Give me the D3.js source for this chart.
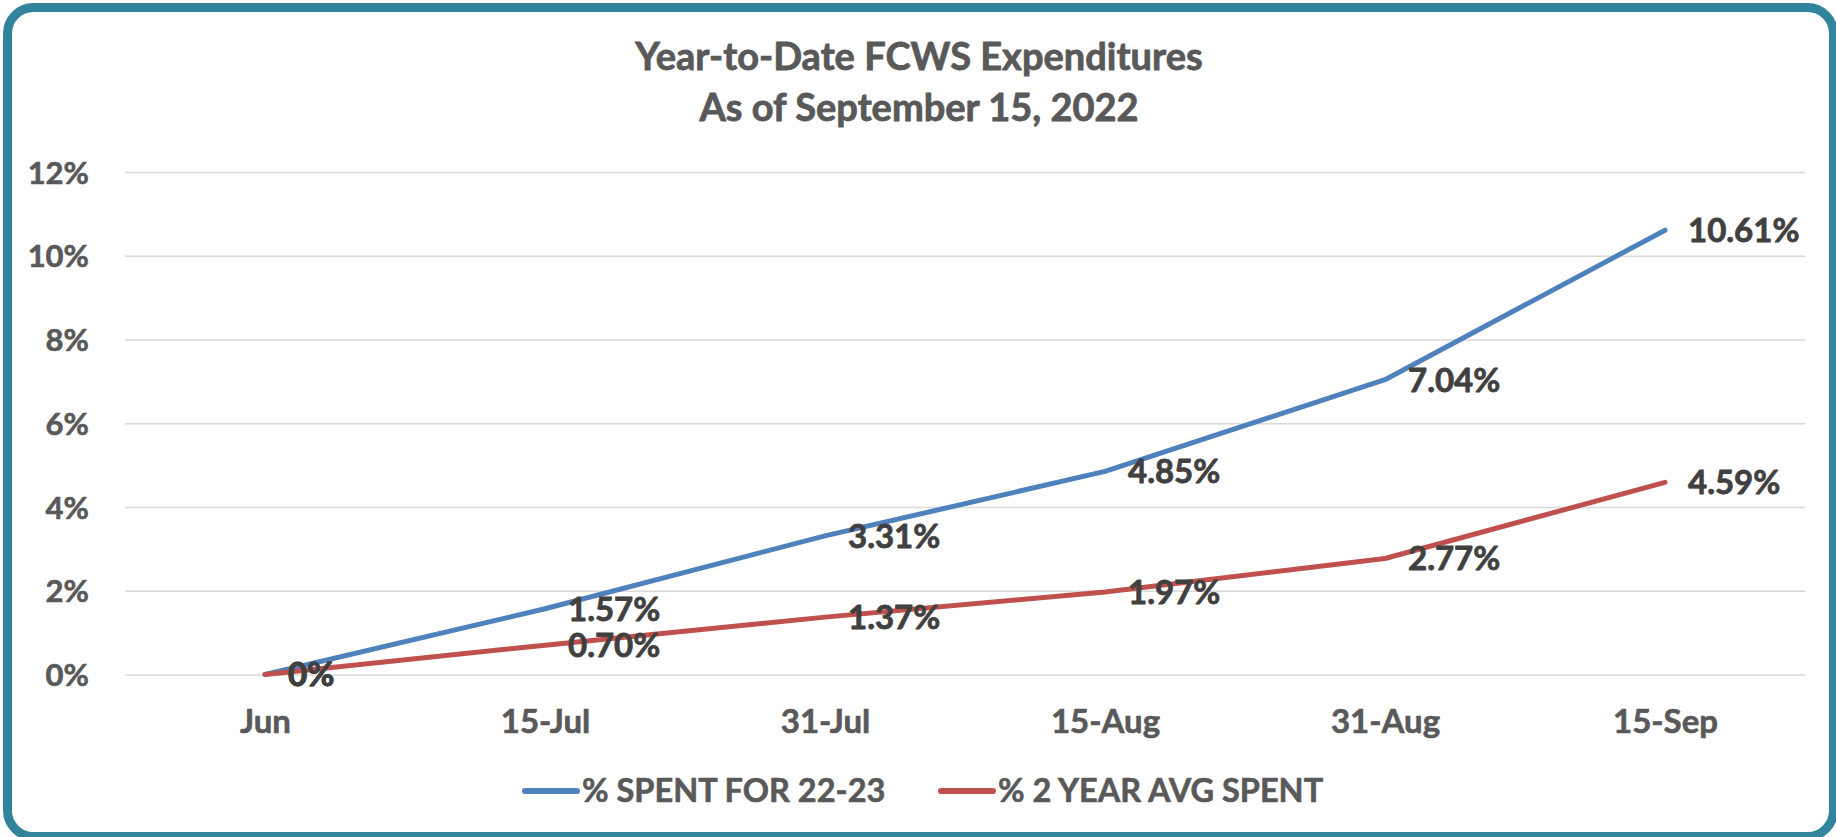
<!DOCTYPE html>
<html>
<head>
<meta charset="utf-8">
<script src="https://cdn.jsdelivr.net/npm/d3@7"></script>
<style>
  html, body { margin: 0; padding: 0; background: #ffffff; }
  svg { display: block; }
  text { font-family: Lato, "Open Sans", "Noto Sans", sans-serif; font-weight: 700; }
</style>
</head>
<body>
<svg id="chart" width="1836" height="837"></svg>
<script>
// Year-to-date expenditure series (percent of budget spent)
const categories = ["Jun", "15-Jul", "31-Jul", "15-Aug", "31-Aug", "15-Sep"];
const spent2223 = [0, 1.57, 3.31, 4.85, 7.04, 10.61];
const avgSpent2yr = [0, 0.70, 1.37, 1.97, 2.77, 4.59];
const spent2223Labels = ["0%", "1.57%", "3.31%", "4.85%", "7.04%", "10.61%"];
const avgSpent2yrLabels = ["0%", "0.70%", "1.37%", "1.97%", "2.77%", "4.59%"];
const yTicks = [0, 2, 4, 6, 8, 10, 12];
const seriesNames = ["% SPENT FOR 22-23", "% 2 YEAR AVG SPENT"];
const titleLines = ["Year-to-Date FCWS Expenditures", "As of September 15, 2022"];

const svg = d3.select("#chart");

// Rounded frame
svg.append("rect")
  .attr("x", 7.5).attr("y", 7.5)
  .attr("width", 1826).attr("height", 829)
  .attr("rx", 26).attr("ry", 26)
  .attr("fill", "#ffffff")
  .attr("stroke", "#31849B")
  .attr("stroke-width", 9);

const plot = { left: 125, right: 1805, top: 172, bottom: 674.5 };

const x = d3.scalePoint()
  .domain(categories)
  .range([plot.left, plot.right])
  .padding(0.5);

const y = d3.scaleLinear()
  .domain([0, 12])
  .range([plot.bottom, plot.top]);

// Slightly heavier strokes on the text to approximate the bold face
const embolden = (sel, color, w) => sel
  .attr("stroke", color)
  .attr("stroke-width", w)
  .attr("stroke-linejoin", "round");

// Title
svg.append("g").selectAll("text")
  .data(titleLines)
  .join("text")
  .attr("x", 919)
  .attr("y", (d, i) => 70 + i * 51)
  .attr("text-anchor", "middle")
  .attr("font-size", 38)
  .attr("fill", "#595959")
  .call(embolden, "#595959", 0.8)
  .text(d => d);

// Horizontal gridlines + y labels
const yAxis = d3.axisLeft(y)
  .tickValues(yTicks)
  .tickSize(-(plot.right - plot.left))
  .tickPadding(36)
  .tickFormat(d => d + "%");

const gy = svg.append("g")
  .attr("transform", `translate(${plot.left},0)`)
  .call(yAxis);
gy.select(".domain").remove();
gy.selectAll(".tick line").attr("stroke", "#D9D9D9").attr("stroke-width", 1.5);
gy.selectAll(".tick text")
  .attr("font-size", 31)
  .attr("fill", "#595959")
  .attr("dy", "0.36em")
  .call(embolden, "#595959", 0.6);

// X axis labels (no axis line)
const xAxis = d3.axisBottom(x).tickSize(0).tickPadding(35);
const gx = svg.append("g")
  .attr("transform", `translate(0,${plot.bottom})`)
  .call(xAxis);
gx.select(".domain").remove();
gx.selectAll(".tick text")
  .attr("font-size", 33)
  .attr("fill", "#595959")
  .call(embolden, "#595959", 0.6);

// Lines
const line = d3.line()
  .x((d, i) => x(categories[i]))
  .y(d => y(d));

const series = [
  { name: seriesNames[0], values: spent2223, labels: spent2223Labels, color: "#4F81BD" },
  { name: seriesNames[1], values: avgSpent2yr, labels: avgSpent2yrLabels, color: "#C0504D" }
];

svg.append("g").selectAll("path")
  .data(series)
  .join("path")
  .attr("d", d => line(d.values))
  .attr("fill", "none")
  .attr("stroke", d => d.color)
  .attr("stroke-width", 5)
  .attr("stroke-linejoin", "round")
  .attr("stroke-linecap", "round");

// Data labels to the right of each point
const labelG = svg.append("g");
series.forEach(s => {
  labelG.selectAll(null)
    .data(s.values)
    .join("text")
    .attr("x", (d, i) => x(categories[i]) + 23)
    .attr("y", d => y(d))
    .attr("dy", "0.36em")
    .attr("font-size", 33)
    .attr("fill", "#404040")
    .call(embolden, "#404040", 0.8)
    .text((d, i) => s.labels[i]);
});

// Legend
const legendItems = [
  { x: 523, color: series[0].color, name: series[0].name },
  { x: 939, color: series[1].color, name: series[1].name }
];
const lg = svg.append("g").selectAll("g")
  .data(legendItems)
  .join("g")
  .attr("transform", d => `translate(${d.x},791)`);
lg.append("line")
  .attr("x1", 2).attr("x2", 54)
  .attr("stroke", d => d.color)
  .attr("stroke-width", 6)
  .attr("stroke-linecap", "round");
lg.append("text")
  .attr("x", 59)
  .attr("y", 11)
  .attr("font-size", 32.5)
  .attr("fill", "#595959")
  .call(embolden, "#595959", 0.6)
  .text(d => d.name);
</script>
</body>
</html>
